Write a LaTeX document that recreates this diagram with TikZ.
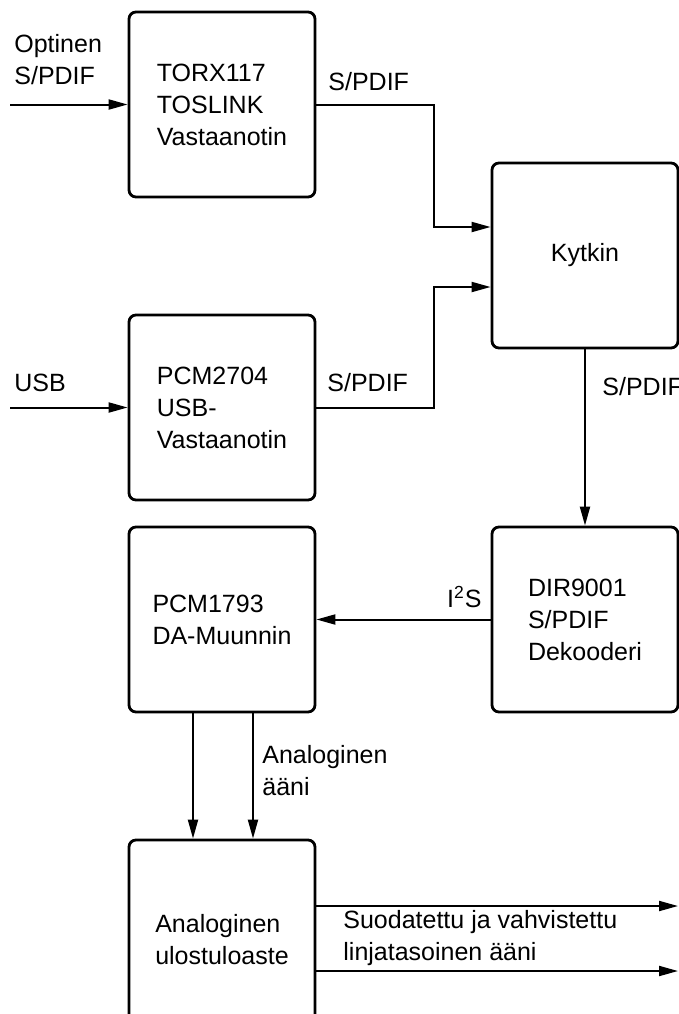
\documentclass[tikz,border=0pt]{standalone}
\usepackage{fontspec}
\setmainfont{Liberation Sans}
\usetikzlibrary{arrows.meta}
\tikzstyle{blk-box} = [draw=black, line width=1.4pt, rounded corners=3.5pt,
    rectangle, minimum width=93pt, minimum height=92.5pt, align=left,
    font=\fontsize{12.5pt}{16pt}\selectfont]
\tikzstyle{sig-label} = [anchor=west, align=left, inner sep=0pt,
    font=\fontsize{12.5pt}{16pt}\selectfont]
\tikzstyle{sig-arrow} = [draw=black, line width=1pt,
    -{Triangle[length=9.5pt,width=5pt]}]

\begin{document}
\begin{tikzpicture}[x=0.5pt,y=-0.5pt]
\clip (0,0) rectangle (679,1014);
% blocks
\node [blk-box] (torx) at (222,104.5) {TORX117\\TOSLINK\\Vastaanotin};
\node [blk-box] (usbrx) at (222,407.5) {PCM2704\\USB-\\Vastaanotin};
\node [blk-box] (kytkin) at (585,255.5) {Kytkin};
\node [blk-box] (dekooderi) at (585,619.5) {DIR9001\\S/PDIF\\Dekooderi};
\node [blk-box] (dac) at (222,619.5) {PCM1793\\DA-Muunnin};
\node [blk-box, minimum height=100pt] (ulostulo) at (222,940) {Analoginen\\ulostuloaste};

\coordinate (optin) at (10,104.5);
\coordinate (usbin) at (10,407.5);
\coordinate (out1) at (678,906);
\coordinate (out2) at (678,971);

% signals
\draw[sig-arrow] (optin) -- (torx.west);
\draw[sig-arrow] (usbin) -- (usbrx.west);
\draw[sig-arrow] (torx.east) -| (434,227) -- (kytkin.west |- 0,227);
\draw[sig-arrow] (usbrx.east) -| (434,287) -- (kytkin.west |- 0,287);
\draw[sig-arrow] (kytkin.south) -- (dekooderi.north);
\draw[sig-arrow] (dekooderi.west) -- (dac.east);
\draw[sig-arrow] (dac.south -| 193,0) -- (ulostulo.north -| 193,0);
\draw[sig-arrow] (dac.south -| 253,0) -- (ulostulo.north -| 253,0);
\draw[sig-arrow] (ulostulo.east |- out1) -- (out1);
\draw[sig-arrow] (ulostulo.east |- out2) -- (out2);

\node[sig-label] (optlbl) at (14,60) {Optinen\\S/PDIF};
\node[sig-label] (usblbl) at (14,383) {USB};
\node[sig-label] (spdif1) at (328,82) {S/PDIF};
\node[sig-label] (spdif2) at (327,383) {S/PDIF};
\node[sig-label] (spdif3) at (602,387) {S/PDIF};
\node[sig-label, anchor=east] (i2s) at (482,597) {I\textsuperscript{2}S};
\node[sig-label] (analbl) at (262,771) {Analoginen\\ääni};
\node[sig-label] (outlbl) at (343,938) {Suodatettu ja vahvistettu\\linjatasoinen ääni};
\end{tikzpicture}
\end{document}
